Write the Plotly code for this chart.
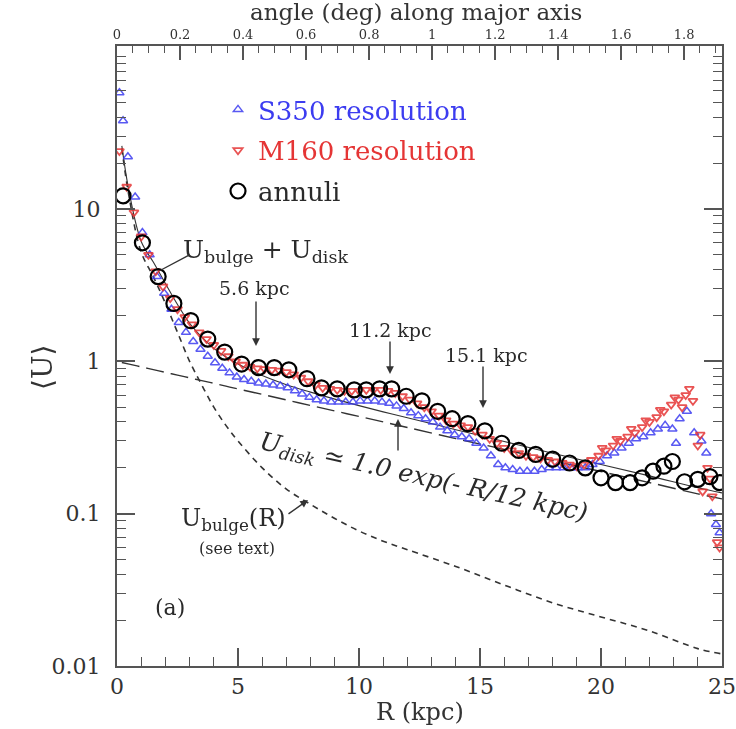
import plotly.graph_objects as go

# ---------------- data ----------------
S350_R = [0.10, 0.25, 0.45, 0.75, 1.05, 1.35, 1.65, 1.95, 2.25, 2.55,
          2.85, 3.15, 3.45, 3.75, 4.05, 4.35, 4.65, 4.95, 5.25, 5.55,
          5.85, 6.15, 6.45, 6.75, 7.05, 7.35, 7.65, 7.95, 8.25, 8.55,
          8.85, 9.15, 9.45, 9.75, 10.05, 10.35, 10.65, 10.95, 11.25, 11.55,
          11.85, 12.15, 12.45, 12.75, 13.05, 13.35, 13.65, 13.95, 14.25, 14.55,
          14.85, 15.15, 15.45, 15.75, 16.05, 16.35, 16.65, 16.95, 17.25, 17.55,
          17.85, 18.15, 18.45, 18.75, 19.05, 19.35, 19.65, 19.95, 20.25, 20.55,
          20.85, 21.15, 21.45, 21.75, 22.05, 22.35, 22.65, 22.95, 23.10, 23.25,
          23.55, 23.85, 24.15, 24.35, 24.55, 24.75, 24.90]
S350_U = [58, 38, 22, 12, 7.0, 5.0, 3.6, 2.8, 2.2, 1.8,
          1.55, 1.35, 1.20, 1.08, 0.98, 0.90, 0.84, 0.79, 0.76, 0.74,
          0.72, 0.71, 0.70, 0.69, 0.67, 0.64, 0.61, 0.58, 0.56, 0.55,
          0.54, 0.54, 0.54, 0.54, 0.55, 0.55, 0.55, 0.54, 0.53, 0.51,
          0.49, 0.46, 0.44, 0.42, 0.40, 0.37, 0.35, 0.33, 0.32, 0.31,
          0.29, 0.27, 0.24, 0.21, 0.20, 0.195, 0.19, 0.19, 0.19, 0.195,
          0.20, 0.20, 0.20, 0.20, 0.20, 0.20, 0.21, 0.22, 0.24, 0.25,
          0.27, 0.29, 0.31, 0.32, 0.34, 0.36, 0.38, 0.36, 0.29, 0.42,
          0.47, 0.34, 0.30, 0.25, 0.10, 0.085, 0.075]

M160_R = [0.10, 0.40, 0.70, 1.00, 1.30, 1.60, 1.90, 2.20, 2.50, 2.80,
          3.10, 3.40, 3.70, 4.00, 4.30, 4.60, 4.90, 5.20, 5.50, 5.80,
          6.10, 6.40, 6.70, 7.00, 7.30, 7.60, 7.90, 8.20, 8.50, 8.80,
          9.10, 9.40, 9.70, 10.0, 10.3, 10.6, 10.9, 11.2, 11.5, 11.8,
          12.1, 12.4, 12.7, 13.0, 13.3, 13.6, 13.9, 14.2, 14.5, 14.8,
          15.1, 15.4, 15.7, 16.0, 16.3, 16.6, 16.9, 17.2, 17.5, 17.8,
          18.1, 18.4, 18.7, 19.0, 19.3, 19.6, 19.9, 20.05, 20.2, 20.5,
          20.65, 20.8, 21.1, 21.25, 21.4, 21.7, 21.85, 22.0, 22.3, 22.45,
          22.6, 22.9, 23.05, 23.2, 23.35, 23.5, 23.65, 23.8, 24.0, 24.1,
          24.2, 24.4, 24.5, 24.6, 24.8, 24.9]
M160_U = [24, 14, 9.5, 6.6, 5.0, 3.9, 3.1, 2.6, 2.2, 1.95,
          1.75, 1.55, 1.40, 1.28, 1.17, 1.08, 1.00, 0.95, 0.92, 0.90,
          0.89, 0.88, 0.87, 0.85, 0.82, 0.78, 0.74, 0.70, 0.67, 0.66,
          0.65, 0.64, 0.64, 0.64, 0.65, 0.65, 0.65, 0.64, 0.62, 0.59,
          0.56, 0.53, 0.50, 0.47, 0.44, 0.41, 0.39, 0.38, 0.37, 0.35,
          0.33, 0.31, 0.29, 0.27, 0.26, 0.25, 0.24, 0.235, 0.23, 0.225,
          0.22, 0.215, 0.21, 0.205, 0.21, 0.225, 0.24, 0.27, 0.26, 0.28,
          0.31, 0.30, 0.32, 0.36, 0.34, 0.37, 0.41, 0.40, 0.43, 0.48,
          0.47, 0.52, 0.58, 0.56, 0.50, 0.60, 0.66, 0.55, 0.28, 0.33,
          0.14, 0.20, 0.17, 0.13, 0.065, 0.06]

ANNULI_R = [0.25, 1.05, 1.70, 2.35, 3.05, 3.75, 4.45, 5.15, 5.85, 6.50,
            7.10, 7.85, 8.45, 9.10, 9.80, 10.30, 10.85, 11.35, 11.95, 12.60,
            13.25, 13.85, 14.50, 15.20, 15.90, 16.60, 17.30, 18.00, 18.70, 19.35,
            20.00, 20.60, 21.20, 21.70, 22.15, 22.60, 22.95, 23.45, 24.00, 24.50,
            24.90]
ANNULI_U = [12.2, 6.0, 3.6, 2.4, 1.85, 1.40, 1.15, 0.96, 0.91, 0.91,
            0.88, 0.77, 0.67, 0.66, 0.65, 0.65, 0.66, 0.66, 0.59, 0.55,
            0.47, 0.42, 0.39, 0.35, 0.29, 0.26, 0.245, 0.228, 0.215, 0.20,
            0.172, 0.16, 0.16, 0.172, 0.19, 0.205, 0.22, 0.162, 0.168, 0.175,
            0.16]

# model curves
CURVE_R = [0.2, 0.5, 1.0, 1.5, 2.0, 2.5, 3.0, 3.5, 4.0, 4.5,
           5.0, 6.0, 7.0, 8.0, 9.0, 10.0, 11.0, 12.0, 14.0, 16.0,
           18.0, 20.0, 22.0, 24.0, 25.0]
BULGE_U = [25, 12, 5.2, 3.6, 2.4, 1.55, 1.0, 0.70, 0.50, 0.38,
           0.30, 0.20, 0.145, 0.115, 0.093, 0.077, 0.066, 0.058, 0.045, 0.034,
           0.026, 0.021, 0.017, 0.013, 0.012]
DISK_U = [0.983, 0.959, 0.920, 0.882, 0.846, 0.812, 0.779, 0.747, 0.717, 0.687,
          0.659, 0.607, 0.558, 0.513, 0.472, 0.435, 0.400, 0.368, 0.311, 0.264,
          0.223, 0.189, 0.160, 0.135, 0.125]
SUM_U = [b + d for b, d in zip(BULGE_U, DISK_U)]

X_TICKS = [0, 5, 10, 15, 20, 25]
TOP_TICKS = [0, 0.2, 0.4, 0.6, 0.8, 1.0, 1.2, 1.4, 1.6, 1.8]
TOP_LABELS = ["0", "0.2", "0.4", "0.6", "0.8", "1", "1.2", "1.4", "1.6", "1.8"]
Y_TICKS = [0.01, 0.1, 1, 10]
Y_LABELS = ["0.01", "0.1", "1", "10"]
KPC_PER_DEG = 13.02

# ---------------- layout geometry ----------------
W, H = 736, 729
L, R_, T, B = 117, 14, 46, 63
PW, PH = W - L - R_, H - T - B

def P(px, py):
    return (px - L) / PW, (H - B - py) / PH

SERIF = "DejaVu Serif, Liberation Serif, serif"
AX = "#555555"
TXT = "#2a2a2a"
BLUE = "#3c3cf0"
RED = "#e53535"

fig = go.Figure()

fig.add_trace(go.Scatter(x=CURVE_R, y=BULGE_U, mode="lines", line_shape="spline",
                         line=dict(color="#333", width=1.6, dash="6px,5px"),
                         showlegend=False, hoverinfo="skip"))
fig.add_trace(go.Scatter(x=CURVE_R, y=DISK_U, mode="lines", line_shape="spline",
                         line=dict(color="#333", width=1.4, dash="18px,7px"),
                         showlegend=False, hoverinfo="skip"))
fig.add_trace(go.Scatter(x=CURVE_R, y=SUM_U, mode="lines", line_shape="spline",
                         line=dict(color="#333", width=1.1),
                         showlegend=False, hoverinfo="skip"))

fig.add_trace(go.Scatter(x=S350_R, y=S350_U, mode="markers", name="<span style='color:#3c3cf0'>S350 resolution</span>",
                         marker=dict(symbol="triangle-up-open", size=8, color=BLUE, line=dict(width=1.5, color=BLUE)),
                         opacity=0.85, legendrank=1, legendgroup="a"))
fig.add_trace(go.Scatter(x=M160_R, y=M160_U, mode="markers", name="<span style='color:#e53535'>M160 resolution</span>",
                         marker=dict(symbol="triangle-down-open", size=8, color=RED, line=dict(width=1.8, color=RED)),
                         opacity=0.85, legendrank=2, legendgroup="b"))
fig.add_trace(go.Scatter(x=ANNULI_R, y=ANNULI_U, mode="markers", name="annuli",
                         marker=dict(symbol="circle-open", size=15, color="black", line=dict(width=2.2, color="black")),
                         legendrank=3, legendgroup="c"))
# binds the top (angle) axis
fig.add_trace(go.Scatter(x=[], y=[], xaxis="x2", yaxis="y", showlegend=False))

tickfont = dict(family=SERIF, size=22, color="#333")

fig.update_layout(
    width=W, height=H,
    margin=dict(l=L, r=R_, t=T, b=B, autoexpand=False),
    paper_bgcolor="white", plot_bgcolor="white",
    font=dict(family=SERIF, color=TXT),
    showlegend=True,
    legend=dict(x=P(218, 0)[0], y=P(0, 86)[1], xanchor="left", yanchor="top",
                bgcolor="rgba(0,0,0,0)", font=dict(family=SERIF, size=26, color=TXT),
                tracegroupgap=4, itemwidth=30),
    xaxis=dict(range=[0, 25], tickvals=X_TICKS, ticks="inside", ticklen=18, tickwidth=1.5,
               tickcolor=AX, showline=True, linecolor=AX, linewidth=2, showgrid=False,
               zeroline=False, tickfont=tickfont, ticklabeloverflow="allow", automargin=False,
               minor=dict(dtick=1, ticks="inside", ticklen=9, tickwidth=1.2, tickcolor=AX, showgrid=False)),
    xaxis2=dict(range=[0, 25 / KPC_PER_DEG], overlaying="x", side="top", anchor="y",
                tickvals=TOP_TICKS, ticktext=TOP_LABELS, ticks="inside", ticklen=14, tickwidth=1.5,
                tickcolor=AX, showline=True, linecolor=AX, linewidth=2, showgrid=False, zeroline=False,
                tickfont=dict(family=SERIF, size=13, color="#333"), ticklabeloverflow="allow", automargin=False,
                minor=dict(dtick=0.05, ticks="inside", ticklen=7, tickwidth=1.2, tickcolor=AX, showgrid=False)),
    yaxis=dict(type="log", range=[-2, 2.07], tickvals=Y_TICKS, ticktext=Y_LABELS, ticks="inside",
               ticklen=18, tickwidth=1.5, tickcolor=AX, showline=True, linecolor=AX, linewidth=2,
               mirror="ticks", showgrid=False, zeroline=False, tickfont=tickfont, ticklabelstandoff=10,
               automargin=False,
               minor=dict(dtick="D1", ticks="inside", ticklen=9, tickwidth=1.2, tickcolor=AX, showgrid=False)),
)

ann = []
def text(px, py, s, size, angle=0, color=TXT):
    x, y = P(px, py)
    ann.append(dict(xref="paper", yref="paper", x=x, y=y, text=s, showarrow=False,
                    font=dict(family=SERIF, size=size, color=color), textangle=angle,
                    xanchor="center", yanchor="middle"))

def arrow(tx, ty, hx, hy, head=2):
    x, y = P(hx, hy)
    ann.append(dict(xref="paper", yref="paper", x=x, y=y, ax=tx - hx, ay=ty - hy,
                    axref="pixel", ayref="pixel", text="", showarrow=True,
                    arrowhead=head, arrowsize=1.1, arrowwidth=1.4, arrowcolor="#333"))

# axis titles
text(416, 12, "angle (deg) along major axis", 23, color="#333")
text(420, 712, "R (kpc)", 24, color="#333")
text(43, 368, "⟨U⟩", 28, angle=-90, color="#333")

text(265, 251, "U<sub>bulge</sub> + U<sub>disk</sub>", 25)
arrow(191, 254, 161, 270, head=0)
text(254, 288, "5.6 kpc", 19)
arrow(256, 300, 256, 346)
text(390, 330, "11.2 kpc", 19)
arrow(390, 340, 390, 374)
text(486, 355, "15.1 kpc", 19)
arrow(483, 365, 483, 408)
text(423, 478, "<i>U<sub>disk</sub> ≃ 1.0 exp(- R/12 kpc)</i>", 25, angle=12.5)
arrow(398, 452, 398, 419)
text(233, 519, "U<sub>bulge</sub>(R)", 24)
arrow(287, 515, 308, 500)
text(237, 548, "(see text)", 16)
text(170, 607, "(a)", 22)

fig.update_layout(annotations=ann)
fig.write_html("out.html")
